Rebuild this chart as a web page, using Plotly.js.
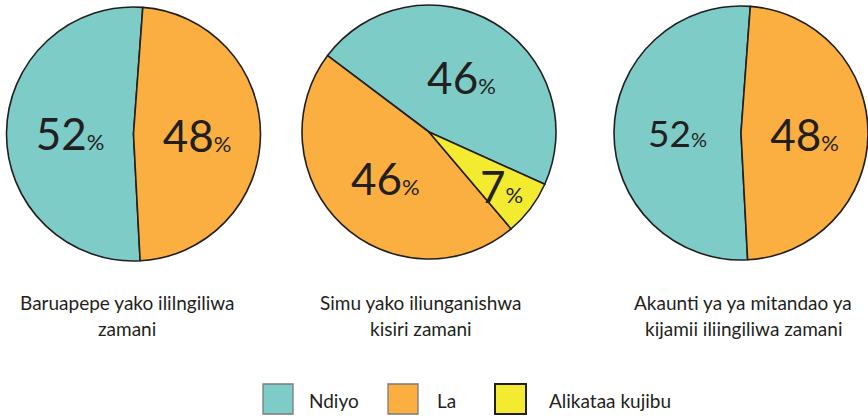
<!DOCTYPE html>
<html>
<head>
<meta charset="utf-8">
<script src="https://cdn.plot.ly/plotly-3.0.1.min.js"></script>
<style>html,body{margin:0;padding:0;background:#fff;}#chart{width:868px;height:416px;}</style>
</head>
<body>
<div id="chart"></div>
<script>
// ---- data ----
const categories = ['Ndiyo', 'La', 'Alikataa kujibu'];
const pie1Values = [52, 48];
const pie2Values = [46, 46, 7];
const pie3Values = [52, 48];
const pie1Title = ['Baruapepe yako ililngiliwa', 'zamani'];
const pie2Title = ['Simu yako iliunganishwa', 'kisiri zamani'];
const pie3Title = ['Akaunti ya ya mitandao ya', 'kijamii iliingiliwa zamani'];
const colors = ['#7dccc8', '#fbaf41', '#f3eb30'];

// ---- layout helpers (pixels -> paper) ----
const W = 868, H = 416;
const FONT = 'Lato, Open Sans, sans-serif';
const INK = '#231f20';
function px(x) { return x / W; }
function py(y) { return 1 - y / H; }

const pies = [
  {values: pie1Values, cx: 133.5, cy: 134, r: 127, rot: 177, num: [44, 44], pct: [22, 22], title: pie1Title, tx: 127, annot: []},
  {values: pie2Values, cx: 429, cy: 132, r: 127, rot: 307, num: [44, 44, 44], pct: [22, 22, 22], title: pie2Title, tx: 421, annot: [2]},
  {values: pie3Values, cx: 741, cy: 133, r: 127, rot: 177, num: [37, 44], pct: [20, 22], title: pie3Title, tx: 743, annot: []}
];

// mid-angle (deg, clockwise from 12 o'clock) of slice k for plotly's counterclockwise layout
function midAngle(values, rot, k) {
  const tot = values.reduce((a, b) => a + b, 0);
  const ang = values.map(v => v / tot * 360);
  if (k === 0) return rot + ang[0] / 2;
  let end = rot;
  for (let i = 1; i < k; i++) end -= ang[i];
  return end - ang[k] / 2;
}

const traces = pies.map(p => ({
  type: 'pie',
  labels: categories.slice(0, p.values.length),
  values: p.values,
  customdata: p.pct,
  sort: false,
  direction: 'counterclockwise',
  rotation: p.rot,
  domain: {x: [px(p.cx - p.r), px(p.cx + p.r)], y: [py(p.cy + p.r), py(p.cy - p.r)]},
  marker: {colors: colors.slice(0, p.values.length), line: {color: INK, width: 1.6}},
  textinfo: 'none',
  texttemplate: '%{value}<span style="font-size:%{customdata}px">%</span>',
  textposition: p.values.map((v, k) => p.annot.includes(k) ? 'none' : 'inside'),
  insidetextorientation: 'horizontal',
  textfont: {family: FONT, size: p.num, color: INK},
  hoverinfo: 'skip'
}));

const annotations = [];
pies.forEach(p => {
  // labels of slices too narrow for plotly's inside text, placed at the slice's mid-angle
  p.annot.forEach(k => {
    const a = midAngle(p.values, p.rot, k) * Math.PI / 180;
    const f = 0.71 * p.r;
    annotations.push({
      xref: 'paper', yref: 'paper',
      x: px(p.cx + f * Math.sin(a)), y: py(p.cy - f * Math.cos(a)),
      text: p.values[k] + '<span style="font-size:' + p.pct[k] + 'px">%</span>',
      showarrow: false, xanchor: 'center', yanchor: 'middle',
      font: {family: FONT, size: p.num[k], color: INK}
    });
  });
  p.title.forEach((line, i) => {
    annotations.push({
      xref: 'paper', yref: 'paper', x: px(p.tx), y: py(302 + i * 26),
      text: line, showarrow: false, xanchor: 'center', yanchor: 'middle',
      font: {family: FONT, size: 19, color: INK}
    });
  });
});

const legendItems = [
  {x0: 263, x1: 293, tx: 307, border: '#7a7a7a'},
  {x0: 388, x1: 418, tx: 435, border: '#7a7a7a'},
  {x0: 495, x1: 526, tx: 547, border: INK}
];
const shapes = [];
legendItems.forEach((it, i) => {
  shapes.push({
    type: 'rect', xref: 'paper', yref: 'paper',
    x0: px(it.x0), x1: px(it.x1), y0: py(414), y1: py(384),
    fillcolor: colors[i], line: {color: it.border, width: i === 2 ? 2 : 1.3}
  });
  annotations.push({
    xref: 'paper', yref: 'paper', x: px(it.tx), y: py(400),
    text: categories[i], showarrow: false, xanchor: 'left', yanchor: 'middle',
    font: {family: FONT, size: 19, color: INK}
  });
});

const layout = {
  width: W, height: H,
  margin: {l: 0, r: 0, t: 0, b: 0},
  paper_bgcolor: '#ffffff',
  showlegend: false,
  annotations: annotations,
  shapes: shapes
};

Plotly.newPlot('chart', traces, layout, {displayModeBar: false, staticPlot: true});
</script>
</body>
</html>
